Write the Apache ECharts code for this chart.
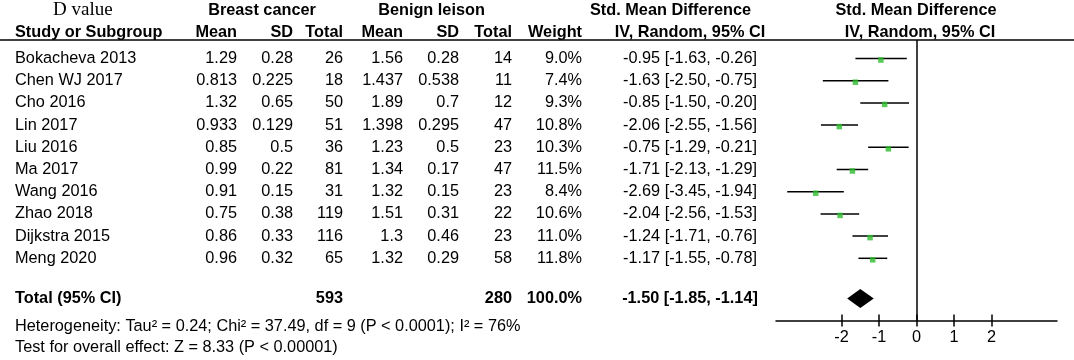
<!DOCTYPE html>
<html><head><meta charset="utf-8">
<script src="https://cdn.jsdelivr.net/npm/echarts@6/dist/echarts.min.js"></script>
<style>html,body{margin:0;padding:0;background:#fff}#c{width:1074px;height:360px}</style>
</head><body><div id="c"></div>
<script>
// ---- data ----
const studies = ['Bokacheva 2013','Chen WJ 2017','Cho 2016','Lin 2017','Liu 2016','Ma 2017','Wang 2016','Zhao 2018','Dijkstra 2015','Meng 2020'];
const bcMean = [1.29,0.813,1.32,0.933,0.85,0.99,0.91,0.75,0.86,0.96];
const bcSD = [0.28,0.225,0.65,0.129,0.5,0.22,0.15,0.38,0.33,0.32];
const bcTotal = [26,18,50,51,36,81,31,119,116,65];
const blMean = [1.56,1.437,1.89,1.398,1.23,1.34,1.32,1.51,1.3,1.32];
const blSD = [0.28,0.538,0.7,0.295,0.5,0.17,0.15,0.31,0.46,0.29];
const blTotal = [14,11,12,47,23,47,23,22,23,58];
const weight = [9.0,7.4,9.3,10.8,10.3,11.5,8.4,10.6,11.0,11.8];
const smd = [-0.95,-1.63,-0.85,-2.06,-0.75,-1.71,-2.69,-2.04,-1.24,-1.17];
const ciLow = [-1.63,-2.50,-1.50,-2.55,-1.29,-2.13,-3.45,-2.56,-1.71,-1.55];
const ciHigh = [-0.26,-0.75,-0.20,-1.56,-0.21,-1.29,-1.94,-1.53,-0.76,-0.78];
const totalBC = 593, totalBL = 280, totalWeight = 100.0;
const totalSMD = -1.50, totalLow = -1.85, totalHigh = -1.14;
const xTicks = [-2,-1,0,1,2];
const heterogeneity = 'Heterogeneity: Tau\u00b2 = 0.24; Chi\u00b2 = 37.49, df = 9 (P < 0.0001); I\u00b2 = 76%';
const overallTest = 'Test for overall effect: Z = 8.33 (P < 0.00001)';

// ---- layout ----
const ROW0 = 58.5, ROWH = 22.2;
const rowOf = px => (px - ROW0) / ROWH;
const SANS = '"Liberation Sans", Arial, sans-serif';
const SERIF = '"Liberation Serif", "Times New Roman", serif';
const FS = 16.3;
const col = {study:15, bcMean:237, bcSD:293, bcTotal:343, blMean:403, blSD:459, blTotal:512, weight:582, ci:690};
const fmt2 = v => v.toFixed(2);
const ciText = (m,l,h) => fmt2(m) + ' [' + fmt2(l) + ', ' + fmt2(h) + ']';

const cells = [];
function cell(x,row,text,align,bold,font,size){cells.push({x,row,text:String(text),align,bold,font:font||SANS,size:size||FS});}
// header
const h1 = rowOf(11), h2 = rowOf(33);
cell(53, rowOf(10), 'D value', 'left', false, SERIF, 19);
cell(262, h1, 'Breast cancer', 'center', true);
cell(431.5, h1, 'Benign leison', 'center', true);
cell(590, h1, 'Std. Mean Difference', 'left', true);
cell(916, h1, 'Std. Mean Difference', 'center', true);
cell(col.study, h2, 'Study or Subgroup', 'left', true);
cell(col.bcMean, h2, 'Mean', 'right', true);
cell(col.bcSD, h2, 'SD', 'right', true);
cell(col.bcTotal, h2, 'Total', 'right', true);
cell(col.blMean, h2, 'Mean', 'right', true);
cell(col.blSD, h2, 'SD', 'right', true);
cell(col.blTotal, h2, 'Total', 'right', true);
cell(col.weight, h2, 'Weight', 'right', true);
cell(col.ci, h2, 'IV, Random, 95% CI', 'center', true);
cell(920, h2, 'IV, Random, 95% CI', 'center', true);
// study rows
studies.forEach((s,i)=>{
  cell(col.study, i, s, 'left');
  cell(col.bcMean, i, bcMean[i], 'right');
  cell(col.bcSD, i, bcSD[i], 'right');
  cell(col.bcTotal, i, bcTotal[i], 'right');
  cell(col.blMean, i, blMean[i], 'right');
  cell(col.blSD, i, blSD[i], 'right');
  cell(col.blTotal, i, blTotal[i], 'right');
  cell(col.weight, i, weight[i].toFixed(1)+'%', 'right');
  cell(col.ci, i, ciText(smd[i],ciLow[i],ciHigh[i]), 'center');
});
const totRow = rowOf(298.5);
cell(col.study, totRow, 'Total (95% CI)', 'left', true);
cell(col.bcTotal, totRow, totalBC, 'right', true);
cell(col.blTotal, totRow, totalBL, 'right', true);
cell(col.weight, totRow, totalWeight.toFixed(1)+'%', 'right', true);
cell(col.ci, totRow, ciText(totalSMD,totalLow,totalHigh), 'center', true);
cell(col.study, rowOf(326.5), heterogeneity, 'left');
cell(col.study, rowOf(348), overallTest, 'left');

const PLOT_TOP = 40, PLOT_AXIS = 320.5;
const chart = echarts.init(document.getElementById('c'), null, {renderer:'canvas'});
chart.setOption({
  animation:false,
  backgroundColor:'#fff',
  grid:[
    {left:0, right:0, top: ROW0 - 2.5*ROWH, height: 16*ROWH},
    {left:776, width:281, top:PLOT_TOP, height:PLOT_AXIS-PLOT_TOP}
  ],
  xAxis:[
    {gridIndex:0, type:'value', min:0, max:1074, show:false},
    {gridIndex:1, type:'value', min:-3.75, max:3.75, position:'bottom',
     axisLine:{onZero:false, lineStyle:{color:'#000', width:1.5}},
     axisTick:{show:true, length:6, customValues:xTicks, lineStyle:{color:'#000', width:1.5}},
     axisLabel:{customValues:xTicks, color:'#000', fontSize:FS, fontFamily:SANS, margin:9},
     splitLine:{show:false}},
    {gridIndex:1, type:'value', min:-3.75, max:3.75, position:'bottom',
     axisLine:{show:false, onZero:false},
     axisTick:{show:true, inside:true, length:6, customValues:xTicks, lineStyle:{color:'#000', width:1.5}},
     axisLabel:{show:false}, splitLine:{show:false}}
  ],
  yAxis:[
    {gridIndex:0, type:'value', min:-2.5, max:13.5, inverse:true, show:false},
    {gridIndex:1, type:'value', min:rowOf(PLOT_TOP), max:rowOf(PLOT_AXIS), inverse:true, show:false}
  ],
  graphic:[{type:'line', shape:{x1:0,y1:40,x2:1074,y2:40}, style:{stroke:'#000', lineWidth:1.5}}],
  series:[
    {type:'custom', xAxisIndex:0, yAxisIndex:0, clip:false, silent:true,
     data: cells.map(c=>[c.x,c.row]),
     encode:{x:0,y:1},
     renderItem:(params, api)=>{
       const c = cells[params.dataIndex];
       const p = api.coord([api.value(0), api.value(1)]);
       return {type:'text', x:p[0], y:p[1], style:{text:c.text, align:c.align, verticalAlign:'middle',
         fontFamily:c.font, fontSize:c.size, fontWeight:c.bold?'bold':'normal', fill:'#000'}};
     }},
    {type:'custom', xAxisIndex:1, yAxisIndex:1, clip:false, silent:true,
     data: studies.map((s,i)=>[ciLow[i], ciHigh[i], i]),
     encode:{x:[0,1], y:2},
     renderItem:(params, api)=>{
       const a = api.coord([api.value(0), api.value(2)]);
       const b = api.coord([api.value(1), api.value(2)]);
       return {type:'line', shape:{x1:a[0],y1:a[1],x2:b[0],y2:b[1]}, style:{stroke:'#000', lineWidth:1.5}};
     },
     markLine:{silent:true, symbol:'none', label:{show:false}, lineStyle:{color:'#000', width:1.5, type:'solid'},
       data:[{xAxis:0}]}},
    {type:'scatter', xAxisIndex:1, yAxisIndex:1, silent:true,
     symbol:'rect', symbolSize:5.5, symbolOffset:[0,1.5],
     itemStyle:{color:'#2dbb2d'},
     data: smd.map((v,i)=>[v,i])},
    {type:'custom', xAxisIndex:1, yAxisIndex:1, clip:false, silent:true,
     data:[[totalLow, totalSMD, totalHigh, totRow]],
     encode:{x:[0,1,2], y:3},
     renderItem:(params, api)=>{
       const l = api.coord([api.value(0), api.value(3)]);
       const m = api.coord([api.value(1), api.value(3)]);
       const r = api.coord([api.value(2), api.value(3)]);
       const hh = api.size([0, 0.43])[1];
       return {type:'polygon', shape:{points:[[l[0],l[1]],[m[0],m[1]-hh],[r[0],r[1]],[m[0],m[1]+hh]]}, style:{fill:'#000'}};
     }}
  ]
});
</script></body></html>
